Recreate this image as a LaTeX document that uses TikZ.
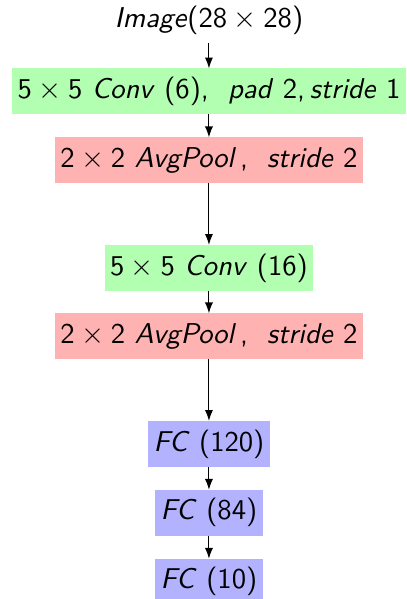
\documentclass[tikz,border=0pt]{standalone}
\usepackage{tikz}
\usetikzlibrary{positioning,arrows.meta}

\newcommand{\by}{${}\times{}$}

\begin{document}
\begin{tikzpicture}[
		font=\sffamily\fontsize{10.6pt}{12pt}\selectfont,
		layer/.style={minimum height=17pt,inner xsep=2pt,inner ysep=0pt,outer sep=0pt},
		conv/.style={layer,fill=green!30},
		pool/.style={layer,fill=red!30},
		fc/.style={layer,fill=blue!30},
		ar/.style={-{Latex[length=4pt,width=3pt]}}
		]

		\useasboundingbox (-77.3pt,7.4pt) rectangle (72.9pt,-214.2pt);

		\node[layer] (img) at (0,0) {\textit{Image}(28\by28)};
		\node[conv,below=9.4pt of img] (conva) {5\by5 \textit{Conv} (6),\ \ \textit{pad} 2,\,\textit{stride} 1};
		\node[pool,below=8.5pt of conva] (poola) {2\by2 \textit{AvgPool}\kern1.4pt,\ \ \textit{stride} 2};
		\node[conv,below=22.8pt of poola] (convb) {5\by5 \textit{Conv} (16)};
		\node[pool,below=8.3pt of convb] (poolb) {2\by2 \textit{AvgPool}\kern1.4pt,\ \ \textit{stride} 2};
		\node[fc,below=22.8pt of poolb] (fca) {\textit{FC} (120)};
		\node[fc,below=8.5pt of fca] (fcb) {\textit{FC} (84)};
		\node[fc,below=8.5pt of fcb] (fcc) {\textit{FC} (10)};

		\draw[ar] (img)--(conva);
		\draw[ar] (conva)--(poola);
		\draw[ar] (poola)--(convb);
		\draw[ar] (convb)--(poolb);
		\draw[ar] (poolb)--(fca);
		\draw[ar] (fca)--(fcb);
		\draw[ar] (fcb)--(fcc);

\end{tikzpicture}
\end{document}
